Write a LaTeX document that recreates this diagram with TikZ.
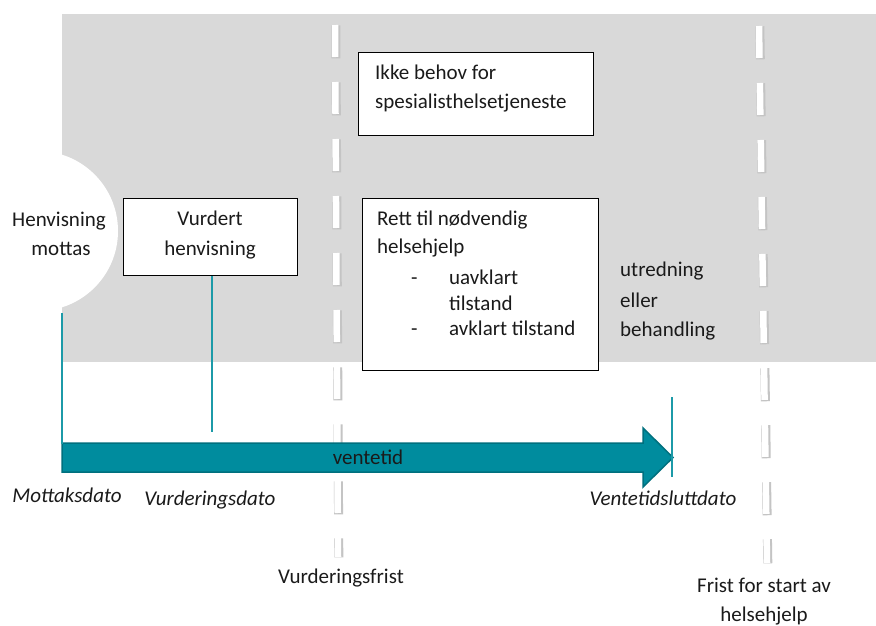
\documentclass[tikz,border=0pt]{standalone}
\usepackage{fontspec}
\setmainfont{Carlito}
\definecolor{bggray}{HTML}{D9D9D9}
\definecolor{tealfill}{HTML}{008C9E}
\definecolor{tealdark}{HTML}{00707E}
\definecolor{tealline}{HTML}{1C9AA8}
\definecolor{dashshadow}{HTML}{C4C4C4}
\definecolor{txtcol}{HTML}{1A1A1A}
\begin{document}
\begin{tikzpicture}[x=1pt,y=-1pt,
  txt/.style={font=\fontsize{21}{24}\selectfont, text=txtcol, inner sep=0pt, text height=14pt, text depth=3pt},
  itxt/.style={txt, font=\fontsize{21}{24}\selectfont\itshape},
  boxnode/.style={draw=black, line width=0.8pt, fill=white, inner sep=0pt},
  tline/.style={draw=tealline, line width=1.6pt},
  dashshadowline/.style={draw=dashshadow, line width=9pt, dash pattern=on 33pt off 24pt},
  dashwhite/.style={draw=white, line width=6.5pt, dash pattern=on 32pt off 25pt}
]
\useasboundingbox (0,0) rectangle (876,625);
\fill[white] (0,0) rectangle (876,625);
% gray band
\fill[bggray] (62,14) rectangle (876,362);
% white circle
\begin{scope}
\clip (62,14) rectangle (876,362);
\fill[white] (38,231) circle (80);
\end{scope}
% dashed separators
\coordinate (d1a) at (335,25);
\coordinate (d1b) at (338,557);
\coordinate (d2a) at (759,26);
\coordinate (d2b) at (767,563);
\draw[dashshadowline] ([shift={(0.8,0.3)}]d1a) -- ([shift={(0.8,0.3)}]d1b);
\draw[dashwhite] (d1a) -- (d1b);
\draw[dashshadowline] ([shift={(0.8,0.3)}]d2a) -- ([shift={(0.8,0.3)}]d2b);
\draw[dashwhite] (d2a) -- (d2b);
% boxes
\node[boxnode, minimum width=235, minimum height=83, anchor=north west] (ikke) at (358,52) {};
\node[txt, anchor=west] (ikke1) at (375,74) {Ikke behov for};
\node[txt, anchor=west] (ikke2) at (375,103) {spesialisthelsetjeneste};
\node[boxnode, minimum width=236, minimum height=172, anchor=north west] (rett) at (362,198) {};
\node[txt, anchor=west] (rett1) at (377,220) {Rett til nødvendig};
\node[txt, anchor=west] (rett2) at (377,248) {helsehjelp};
\node[txt, anchor=west] (rd1) at (411,279) {-};
\node[txt, anchor=west] (rett3) at (449,279) {uavklart};
\node[txt, anchor=west] (rett4) at (449,305) {tilstand};
\node[txt, anchor=west] (rd2) at (411,330) {-};
\node[txt, anchor=west] (rett5) at (449,330) {avklart tilstand};
\node[boxnode, minimum width=174, minimum height=77, anchor=north west] (vurd) at (123,198) {};
\node[txt] (vurd1) at (210,220) {Vurdert};
\node[txt] (vurd2) at (210,250) {henvisning};
\node[txt] (henv1) at (59,221) {Henvisning};
\node[txt] (henv2) at (61,250) {mottas};
\node[txt, anchor=west] (utr1) at (620,271) {utredning};
\node[txt, anchor=west] (utr2) at (620,302) {eller};
\node[txt, anchor=west] (utr3) at (620,331) {behandling};
% arrow
\fill[tealfill, draw=tealdark, line width=1.5pt, line join=miter]
  (62,443) -- (643,443) -- (643,428) -- (673,457.5) -- (643,487) -- (643,472) -- (62,472) -- cycle;
\node[txt] (vent) at (368,459) {ventetid};
% teal vertical lines
\coordinate (m1) at (62,313);
\coordinate (m2) at (62,444);
\coordinate (v2) at (212,432);
\coordinate (e1) at (672,397);
\coordinate (e2) at (672,477);
\draw[tline] (m1) -- (m2);
\draw[tline] (vurd.south -| v2) -- (v2);
\draw[tline] (e1) -- (e2);
% labels
\node[itxt] (mott) at (67,497) {Mottaksdato};
\node[itxt] (vdato) at (210,500) {Vurderingsdato};
\node[itxt] (vslutt) at (663,500) {Ventetidsluttdato};
\node[txt] (vfrist) at (341,578) {Vurderingsfrist};
\node[txt] (frist1) at (764,587) {Frist for start av};
\node[txt] (frist2) at (764,616) {helsehjelp};
\end{tikzpicture}
\end{document}
